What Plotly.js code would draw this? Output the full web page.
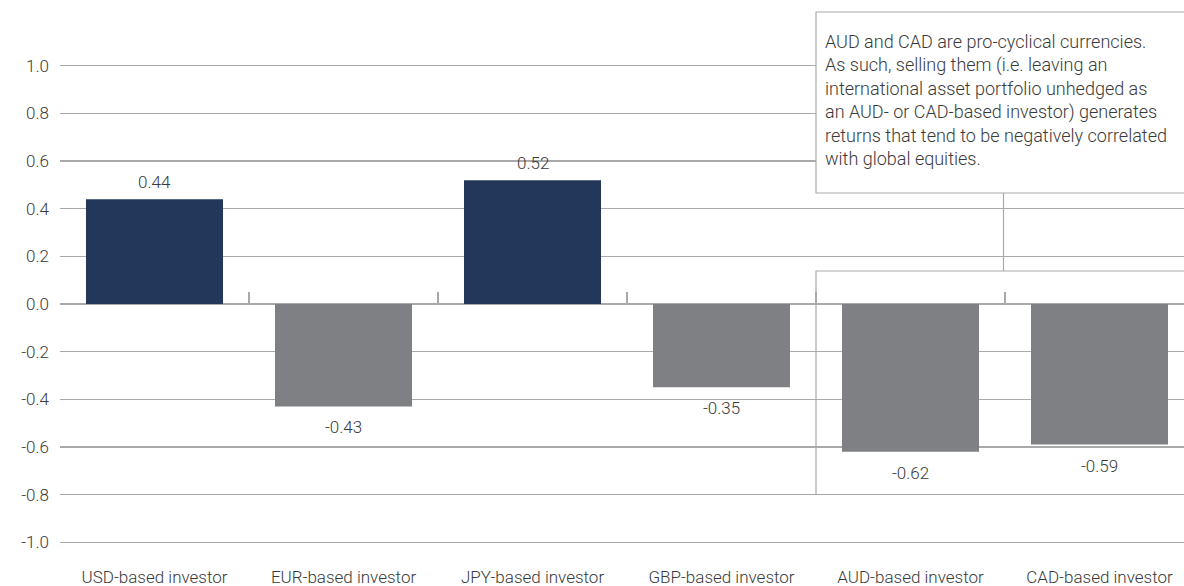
<!DOCTYPE html>
<html>
<head>
<meta charset="utf-8">
<script src="https://cdn.plot.ly/plotly-3.0.1.min.js"></script>
<style>html,body{margin:0;padding:0;background:#fff;}#chart{width:1184px;height:586px;}</style>
</head>
<body>
<div id="chart"></div>
<script>
// ---- data ----
const categories = ['USD-based investor','EUR-based investor','JPY-based investor','GBP-based investor','AUD-based investor','CAD-based investor'];
const values = [0.44, -0.43, 0.52, -0.35, -0.62, -0.59];
const yTickValues = [-1.0, -0.8, -0.6, -0.4, -0.2, 0.0, 0.2, 0.4, 0.6, 0.8, 1.0];
const yTickLabels = ['-1.0','-0.8','-0.6','-0.4','-0.2','0.0','0.2','0.4','0.6','0.8','1.0'];
const noteText = 'AUD and CAD are pro-cyclical currencies.<br>As such, selling them (i.e. leaving an<br>international asset portfolio unhedged as<br>an AUD- or CAD-based investor) generates<br>returns that tend to be negatively correlated<br>with global equities.';

// ---- style ----
const NAVY = '#23375b', GRAY = '#7f8084', GRID = '#a9a9a9', TXT = '#3a3a3a';
const FONT = 'Roboto, "Open Sans", sans-serif';
const FW = 300;
const W = 1184, H = 586, ML = 60, MR = 0, MT = 47, MB = 25;
const pw = W - ML - MR, ph = H - MT - MB;
const px2x = p => (p - ML) / pw;
const px2y = p => (H - MB - p) / ph;
const catW = 189; // pixel width of one category
const xRange = [-0.5, -0.5 + pw / catW];
const yR = 1.079;

const colors = values.map(v => v >= 0 ? NAVY : GRAY);

const traces = [
  {type:'bar', x:categories, y:values, marker:{color:colors}, width:0.725, hoverinfo:'x+y', xaxis:'x', yaxis:'y'},
  {type:'bar', x:categories, y:values.map(()=>0), marker:{color:'rgba(0,0,0,0)'}, hoverinfo:'skip', xaxis:'x2', yaxis:'y', showlegend:false}
];

const annotations = values.map((v,i)=>({
  x: categories[i], y: v, xref:'x', yref:'y', text: v.toFixed(2), showarrow:false,
  yanchor:'middle', yshift: v >= 0 ? 17 : -21, font:{family:FONT, size:17, color:TXT, weight:FW}
}));
annotations.push({
  xref:'paper', yref:'paper', x: px2x(823), y: px2y(29), xanchor:'left', yanchor:'top',
  align:'left', showarrow:false, text: noteText, font:{family:FONT, size:18, color:TXT, weight:FW}
});

const shapes = [
  {type:'rect', xref:'paper', yref:'paper', x0:px2x(816), x1:px2x(1200), y0:px2y(193), y1:px2y(12), line:{color:GRID, width:1.2}, fillcolor:'#ffffff', layer:'above'},
  {type:'line', xref:'paper', yref:'paper', x0:px2x(1003.5), x1:px2x(1003.5), y0:px2y(193), y1:px2y(271), line:{color:GRID, width:1.2}},
  {type:'rect', xref:'paper', yref:'paper', x0:px2x(816), x1:px2x(1200), y0:px2y(494.5), y1:px2y(271), line:{color:GRID, width:1.2}, fillcolor:'rgba(0,0,0,0)', layer:'above'}
];

const layout = {
  width:W, height:H, margin:{l:ML, r:MR, t:MT, b:MB, pad:0},
  paper_bgcolor:'#fff', plot_bgcolor:'#fff', showlegend:false, bargap:0.275,
  font:{family:FONT, size:17, color:TXT, weight:FW},
  xaxis:{type:'category', range:xRange, showgrid:false, zeroline:false, showline:false, ticks:'', tickfont:{family:FONT, size:17, color:TXT, weight:FW}, ticklabelstandoff:4, fixedrange:true},
  xaxis2:{type:'category', overlaying:'x', anchor:'free', position:0.5, side:'bottom', range:xRange, showgrid:false, zeroline:false, showline:true, linecolor:GRID, linewidth:1.2, ticks:'inside', tickson:'boundaries', ticklen:12, tickcolor:GRID, tickwidth:1.2, showticklabels:false, layer:'below traces', fixedrange:true},
  yaxis:{range:[-yR, yR], tickvals:yTickValues, ticktext:yTickLabels, showgrid:true, gridcolor:GRID, gridwidth:1.2, zeroline:false, showline:false, ticks:'', tickfont:{family:FONT, size:17, color:TXT, weight:FW}, ticklabelstandoff:10, fixedrange:true},
  annotations: annotations,
  shapes: shapes
};

Plotly.newPlot('chart', traces, layout, {displayModeBar:false, staticPlot:true});
</script>
</body>
</html>
